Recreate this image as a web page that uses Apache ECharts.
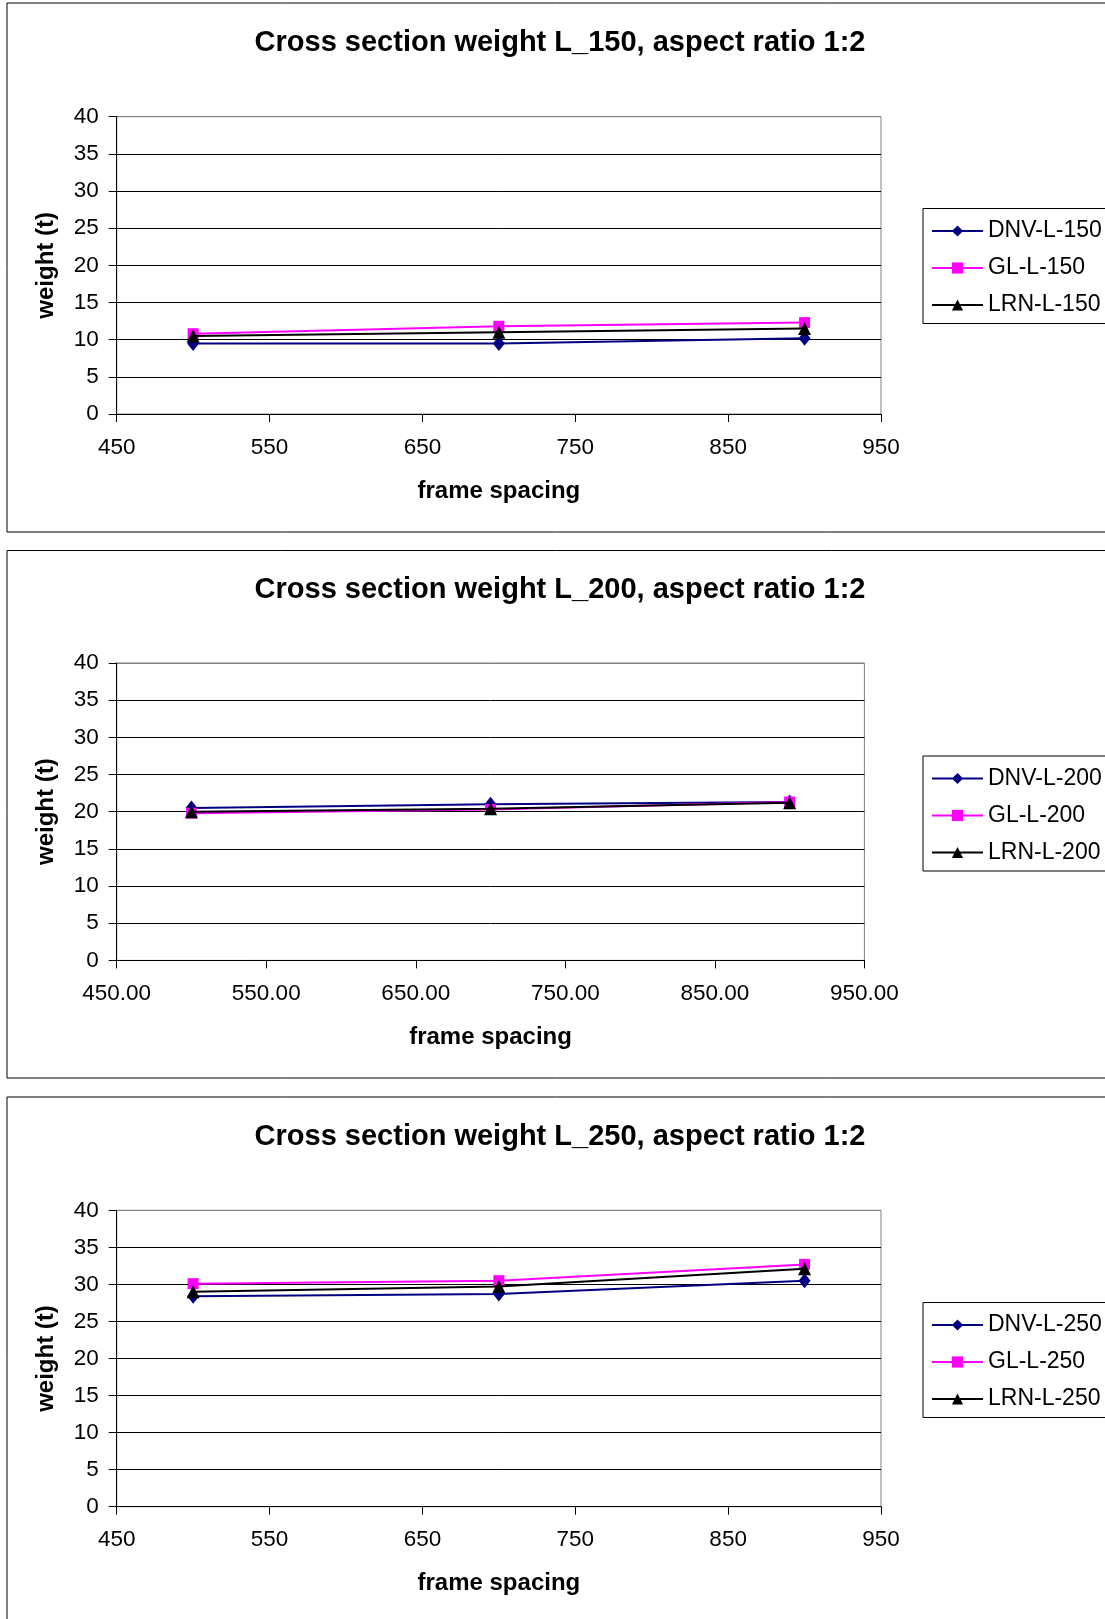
<!DOCTYPE html>
<html>
<head>
<meta charset="utf-8">
<script src="https://cdn.jsdelivr.net/npm/echarts@6/dist/echarts.min.js"></script>
<style>
html,body{margin:0;padding:0;background:#fff;}
#chart{width:1105px;height:1619px;}
</style>
</head>
<body>
<div id="chart"></div>
<script>
const frameSpacing = [500, 700, 900];
const titles = [
  'Cross section weight L_150, aspect ratio 1:2',
  'Cross section weight L_200, aspect ratio 1:2',
  'Cross section weight L_250, aspect ratio 1:2'
];
const seriesNames150 = ['DNV-L-150', 'GL-L-150', 'LRN-L-150'];
const seriesNames200 = ['DNV-L-200', 'GL-L-200', 'LRN-L-200'];
const seriesNames250 = ['DNV-L-250', 'GL-L-250', 'LRN-L-250'];
const dnv150 = [9.5, 9.5, 10.2];
const gl150 = [10.8, 11.8, 12.3];
const lrn150 = [10.5, 11.0, 11.5];
const dnv200 = [20.5, 21.0, 21.3];
const gl200 = [19.8, 20.3, 21.3];
const lrn200 = [20.0, 20.4, 21.2];
const dnv250 = [28.4, 28.7, 30.5];
const gl250 = [30.1, 30.5, 32.7];
const lrn250 = [29.0, 29.7, 32.1];
const yAxisName = 'weight (t)';
const xAxisName = 'frame spacing';

const FONT = '"Liberation Sans", Arial, sans-serif';
const colors = ['#000080', '#FF00FF', '#000000'];
const symbols = ['diamond', 'rect', 'triangle'];
const symbolSizes = [[12, 15], 11, 13];

const panels = [
  {names: seriesNames150, data: [dnv150, gl150, lrn150], boxTop: 3, boxH: 529, gridTop: 116.7, gridH: 297.3, gridW: 764.3, dec: 0},
  {names: seriesNames200, data: [dnv200, gl200, lrn200], boxTop: 550.5, boxH: 527.5, gridTop: 663, gridH: 297.4, gridW: 747.7, dec: 2},
  {names: seriesNames250, data: [dnv250, gl250, lrn250], boxTop: 1097, boxH: 540, gridTop: 1210.3, gridH: 296.4, gridW: 764.3, dec: 0}
];

const option = {
  animation: false,
  backgroundColor: '#fff',
  title: [], legend: [], grid: [], xAxis: [], yAxis: [], series: [],
  graphic: []
};

panels.forEach((p, i) => {
  option.graphic.push({
    type: 'rect', shape: {x: 7, y: p.boxTop, width: 1120, height: p.boxH},
    style: {fill: 'none', stroke: '#000', lineWidth: 1}, z: -10
  });
  option.title.push({
    text: titles[i], left: 560, top: p.boxTop + 25, textAlign: 'center', padding: 0,
    textStyle: {fontFamily: FONT, fontSize: 29, fontWeight: 'bold', color: '#000'}
  });
  option.legend.push({
    data: p.names,
    orient: 'vertical', left: 923, top: p.boxTop + 205.5,
    itemWidth: 51, itemHeight: 14, itemGap: 14,
    padding: [11, 12, 7, 8],
    borderColor: '#000', borderWidth: 1, borderRadius: 0,
    backgroundColor: '#fff',
    textStyle: {fontFamily: FONT, fontSize: 23, color: '#000', lineHeight: 23}
  });
  option.grid.push({
    left: 116.7, top: p.gridTop, width: p.gridW, height: p.gridH,
    show: true, borderColor: '#808080', borderWidth: 1, backgroundColor: '#fff'
  });
  option.xAxis.push({
    type: 'value', gridIndex: i, min: 450, max: 950, interval: 100,
    name: xAxisName, nameLocation: 'middle', nameGap: 65,
    nameTextStyle: {fontFamily: FONT, fontSize: 24, fontWeight: 'bold', color: '#000'},
    axisLine: {show: true, onZero: false, lineStyle: {color: '#000', width: 1}},
    axisTick: {show: true, inside: false, length: 8, lineStyle: {color: '#000'}},
    axisLabel: {margin: 22, fontFamily: FONT, fontSize: 22.5, color: '#000',
      formatter: v => v.toFixed(p.dec)},
    splitLine: {show: false}
  });
  option.yAxis.push({
    type: 'value', gridIndex: i, min: 0, max: 40, interval: 5,
    name: yAxisName, nameLocation: 'middle', nameGap: 58, nameRotate: 90,
    nameTextStyle: {fontFamily: FONT, fontSize: 24, fontWeight: 'bold', color: '#000'},
    axisLine: {show: true, lineStyle: {color: '#000', width: 1}},
    axisTick: {show: true, inside: false, length: 8, lineStyle: {color: '#000'}},
    axisLabel: {margin: 18, fontFamily: FONT, fontSize: 22.5, color: '#000'},
    splitLine: {show: true, lineStyle: {color: ['#000','#000','#000','#000','#000','#000','#000','#000','#808080'], width: 1}}
  });
  p.names.forEach((n, k) => {
    option.series.push({
      type: 'line', name: n, xAxisIndex: i, yAxisIndex: i,
      data: frameSpacing.map((x, j) => [x, p.data[k][j]]),
      symbol: symbols[k], symbolSize: symbolSizes[k], showSymbol: true,
      color: colors[k],
      lineStyle: {color: colors[k], width: 2},
      itemStyle: {color: colors[k]},
      z: 3 + k
    });
  });
});

const chart = echarts.init(document.getElementById('chart'), null, {renderer: 'canvas'});
chart.setOption(option);
</script>
</body>
</html>
